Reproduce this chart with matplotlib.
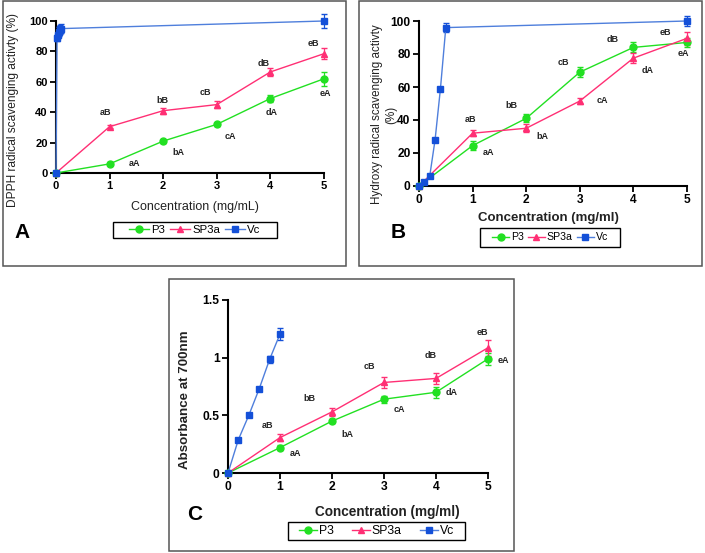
import matplotlib
matplotlib.use("Agg")
import matplotlib.pyplot as plt
from matplotlib.patches import Rectangle
from matplotlib.lines import Line2D

plt.rcParams['font.family'] = ['Liberation Sans', 'DejaVu Sans']

# ---------------- data ----------------
conc = [0, 1, 2, 3, 4, 5]

# Panel A (DPPH)
a_p3 = [0, 6, 21, 32, 49, 62]
a_p3_err = [0.5, 1, 1, 1.2, 2, 4.5]
a_sp3a = [0, 30.5, 41, 45, 66.5, 78.5]
a_sp3a_err = [0.5, 1, 2, 2.5, 2.5, 3.5]
a_vc_x = [0, 0.02, 0.04, 0.06, 0.08, 0.1, 5]
a_vc = [0, 89, 91, 93, 94.5, 95, 100]
a_vc_err = [0.5, 2, 2, 3, 3, 3, 4.5]
a_lab_B = ['aB', 'bB', 'cB', 'dB', 'eB']
a_lab_B_xy = [(0.93, 39.5), (1.98, 48), (2.78, 53), (3.88, 72), (4.8, 85)]
a_lab_A = ['aA', 'bA', 'cA', 'dA', 'eA']
a_lab_A_xy = [(1.46, 6), (2.28, 13.5), (3.26, 24), (4.02, 40), (5.02, 52.5)]

# Panel B (Hydroxy)
b_p3 = [0, 24.5, 41, 69, 84, 87]
b_p3_err = [0.5, 2.5, 2.5, 3, 3, 3]
b_sp3a = [0, 32, 35, 51.5, 77.5, 89.5]
b_sp3a_err = [0.5, 2, 2.5, 2, 3, 4]
b_vc_x = [0, 0.1, 0.2, 0.3, 0.4, 0.5, 5]
b_vc = [0, 2.5, 6, 28, 59, 96, 100]
b_vc_err = [0.5, 0.5, 0.5, 0.5, 0.5, 2.5, 3]
b_lab_B = ['aB', 'bB', 'cB', 'dB', 'eB']
b_lab_B_xy = [(0.97, 40), (1.73, 49), (2.7, 75), (3.62, 89), (4.6, 93)]
b_lab_A = ['aA', 'bA', 'cA', 'dA', 'eA']
b_lab_A_xy = [(1.29, 20), (2.3, 30), (3.43, 52), (4.27, 70), (4.93, 80)]

# Panel C (reducing power)
c_p3 = [0, 0.22, 0.45, 0.64, 0.70, 0.99]
c_p3_err = [0.005, 0.02, 0.02, 0.03, 0.05, 0.05]
c_sp3a = [0, 0.307, 0.53, 0.785, 0.82, 1.086]
c_sp3a_err = [0.005, 0.03, 0.035, 0.05, 0.05, 0.07]
c_vc_x = [0, 0.2, 0.4, 0.6, 0.8, 1.0]
c_vc = [0, 0.29, 0.50, 0.73, 0.985, 1.205]
c_vc_err = [0.005, 0.01, 0.01, 0.02, 0.03, 0.05]
c_lab_B = ['aB', 'bB', 'cB', 'dB', 'eB']
c_lab_B_xy = [(0.75, 0.41), (1.56, 0.65), (2.71, 0.92), (3.89, 1.02), (4.9, 1.22)]
c_lab_A = ['aA', 'bA', 'cA', 'dA', 'eA']
c_lab_A_xy = [(1.3, 0.17), (2.3, 0.33), (3.3, 0.55), (4.3, 0.70), (5.3, 0.975)]

series_names = ['P3', 'SP3a', 'Vc']

# ---------------- style ----------------
GREEN = '#22e022'
PINK = '#ff2f74'
BLUE_M = '#1450d8'
BLUE_L = '#4f7fdc'

W, H = 705, 553
fig = plt.figure(figsize=(W / 100, H / 100), dpi=100)


def px_axes(l, t, r, b):
    return fig.add_axes([l / W, 1 - b / H, (r - l) / W, (b - t) / H])


def box(l, t, r, b, color='#555555', lw=1.1):
    fig.patches.append(Rectangle((l / W, 1 - b / H), (r - l) / W, (b - t) / H,
                                 transform=fig.transFigure, fill=False,
                                 edgecolor=color, linewidth=lw))


def draw_panel(ax, p3, p3e, sp, spe, vx, vy, ve, labB, labBxy, labA, labAxy,
               ylim, yticks, ytl, tick_fs, lab_fs):
    ax.errorbar(conc, p3, yerr=p3e, color=GREEN, marker='o', markersize=5,
                lw=1.0, capsize=2.5, elinewidth=0.9, zorder=3)
    ax.errorbar(conc, sp, yerr=spe, color=PINK, marker='^', markersize=5,
                lw=1.0, capsize=2.5, elinewidth=0.9, zorder=3)
    ax.errorbar(vx, vy, yerr=ve, color=BLUE_L, marker='s', markersize=5,
                markerfacecolor=BLUE_M, markeredgecolor=BLUE_M, lw=1.0,
                capsize=2.5, elinewidth=0.9, ecolor=BLUE_M, zorder=4)
    for t, (x, y) in zip(labB, labBxy):
        ax.text(x, y, t, fontsize=lab_fs, fontweight='bold', color='#222222',
                ha='center', va='center')
    for t, (x, y) in zip(labA, labAxy):
        ax.text(x, y, t, fontsize=lab_fs, fontweight='bold', color='#222222',
                ha='center', va='center')
    ax.set_xlim(0, 5)
    ax.set_ylim(*ylim)
    ax.set_xticks(conc)
    ax.set_yticks(yticks)
    ax.set_yticklabels(ytl)
    for s in ('top', 'right'):
        ax.spines[s].set_visible(False)
    for s in ('left', 'bottom'):
        ax.spines[s].set_linewidth(1.5)
    ax.tick_params(direction='out', length=4, width=1.3, labelsize=tick_fs, pad=2)
    for lab in ax.get_xticklabels() + ax.get_yticklabels():
        lab.set_fontweight('bold')
    for art in ax.lines + ax.collections:
        art.set_clip_on(False)


def legend(l, t, r, b, fs, handle_px, col_px):
    handles = [
        Line2D([], [], color=GREEN, marker='o', markersize=5, lw=1.0),
        Line2D([], [], color=PINK, marker='^', markersize=5, lw=1.0),
        Line2D([], [], color=BLUE_L, marker='s', markersize=5, lw=1.0,
               markerfacecolor=BLUE_M, markeredgecolor=BLUE_M),
    ]
    fs_px = fs * 100 / 72
    fig.legend(handles, series_names, loc='center',
               bbox_to_anchor=((l + r) / 2 / W, 1 - (t + b) / 2 / H),
               bbox_transform=fig.transFigure, ncol=3, fontsize=fs,
               frameon=False, handlelength=handle_px / fs_px,
               handletextpad=2 / fs_px, columnspacing=col_px / fs_px,
               borderpad=0, borderaxespad=0)
    box(l, t, r, b, color='black', lw=1.0)


def place_labels(ax, xl, yl):
    ax.xaxis.set_label_coords(*xl)
    ax.xaxis.label.set_va('center')
    ax.yaxis.set_label_coords(*yl)
    ax.yaxis.label.set_va('center')


# Panel borders
box(3, 1, 346, 266)
box(359, 1, 702, 266)
box(169, 279, 514, 551)

# Panel A
axA = px_axes(56, 21, 324, 173)
draw_panel(axA, a_p3, a_p3_err, a_sp3a, a_sp3a_err, a_vc_x, a_vc, a_vc_err,
           a_lab_B, a_lab_B_xy, a_lab_A, a_lab_A_xy,
           (0, 100), [0, 20, 40, 60, 80, 100], ['0', '20', '40', '60', '80', '100'], 8, 6.5)
axA.set_xlabel('Concentration (mg/mL)', fontsize=9, color='#222222')
axA.set_ylabel('DPPH radical scavenging activty (%)', fontsize=8.6, color='#222222')
place_labels(axA, ((195 - 56) / 268, (173 - 207) / 152), ((13 - 56) / 268, (173 - 110) / 152))
legend(113, 222, 277, 238, 8.2, 20, 5)
fig.text(22 / W, 1 - 232 / H, 'A', fontsize=15, fontweight='bold', ha='center', va='center')

# Panel B
axB = px_axes(419, 21, 687, 186)
draw_panel(axB, b_p3, b_p3_err, b_sp3a, b_sp3a_err, b_vc_x, b_vc, b_vc_err,
           b_lab_B, b_lab_B_xy, b_lab_A, b_lab_A_xy,
           (0, 100), [0, 20, 40, 60, 80, 100], ['0', '20', '40', '60', '80', '100'], 8.6, 6.5)
axB.set_xlabel('Concentration (mg/ml)', fontsize=9.5, fontweight='bold', color='#222222')
axB.set_ylabel('Hydroxy radical scavenging activty', fontsize=8.4, color='#222222')
place_labels(axB, ((548 - 419) / 268, (186 - 218) / 165), ((377 - 419) / 268, (186 - 114) / 165))
fig.text(391.5 / W, 1 - 115 / H, '(%)', fontsize=8.4, color='#222222', rotation=90,
         ha='center', va='center')
legend(480, 228, 620, 247, 7.6, 17, 4)
fig.text(398 / W, 1 - 232 / H, 'B', fontsize=15, fontweight='bold', ha='center', va='center')

# Panel C
axC = px_axes(228, 300, 488, 473)
draw_panel(axC, c_p3, c_p3_err, c_sp3a, c_sp3a_err, c_vc_x, c_vc, c_vc_err,
           c_lab_B, c_lab_B_xy, c_lab_A, c_lab_A_xy,
           (0, 1.5), [0, 0.5, 1, 1.5], ['0', '0.5', '1', '1.5'], 8.7, 6.5)
axC.set_xlabel('Concentration (mg/ml)', fontsize=9.8, fontweight='bold', color='#222222')
axC.set_ylabel('Absorbance at 700nm', fontsize=9.6, fontweight='bold', color='#222222')
place_labels(axC, ((387 - 228) / 260, (473 - 512) / 173), ((185 - 228) / 260, (473 - 400) / 173))
legend(288, 522, 465, 540, 8.8, 18, 18)
fig.text(195 / W, 1 - 515 / H, 'C', fontsize=15, fontweight='bold', ha='center', va='center')

fig.savefig('out.png', dpi=100)
